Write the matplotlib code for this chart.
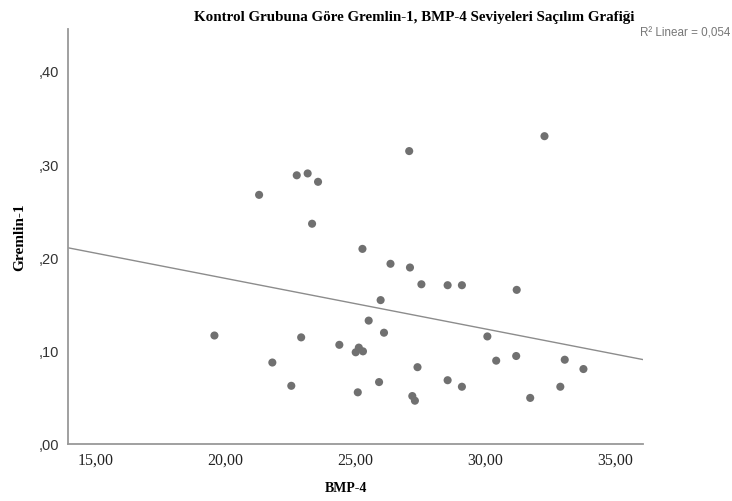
import numpy as np
import matplotlib
matplotlib.use("Agg")
import matplotlib.pyplot as plt
from matplotlib.ticker import FuncFormatter

# values
bmp4 = [19.58, 21.30, 21.81, 22.54, 22.75, 22.92, 23.17, 23.34, 23.57, 24.39,
        25.02, 25.14, 25.30, 25.10, 25.28, 25.52, 25.92, 25.98, 26.11, 26.36,
        27.08, 27.11, 27.20, 27.30, 27.40, 27.55, 28.56, 28.56, 29.11, 29.11,
        30.09, 30.43, 31.20, 31.22, 31.74, 32.29, 32.90, 33.07, 33.79]
gremlin1 = [0.117, 0.268, 0.088, 0.063, 0.289, 0.115, 0.291, 0.237, 0.282, 0.107,
            0.099, 0.104, 0.100, 0.056, 0.210, 0.133, 0.067, 0.155, 0.120, 0.194,
            0.315, 0.190, 0.052, 0.047, 0.083, 0.172, 0.171, 0.069, 0.171, 0.062,
            0.116, 0.090, 0.095, 0.166, 0.050, 0.331, 0.062, 0.091, 0.081]

x_ticks = [15, 20, 25, 30, 35]
y_ticks = [0.0, 0.1, 0.2, 0.3, 0.4]

title = "Kontrol Grubuna Göre Gremlin-1, BMP-4 Seviyeleri Saçılım Grafiği"
r2_text = "R² Linear = 0,054"

fig = plt.figure(figsize=(7.32, 5.01), dpi=100)
ax = fig.add_axes([0.0925, 0.1128, 0.7865, 0.8292])

x = np.array(bmp4)
y = np.array(gremlin1)
ax.scatter(x, y, s=34, color='#707070', edgecolors='none', zorder=3)

# fit line across the whole x range
xmin, xmax = 13.93, 36.1
slope, icpt = np.polyfit(x, y, 1)
xs = np.array([xmin, xmax])
ax.plot(xs, icpt + slope*xs, color='#8c8c8c', lw=1.0, zorder=2)

ax.set_xlim(xmin, xmax)
ax.set_ylim(0, 0.446)
ax.set_xticks(x_ticks)
ax.set_yticks(y_ticks)
ax.xaxis.set_major_formatter(FuncFormatter(lambda v, p: ('%.2f' % v).replace('.', ',')))
ax.yaxis.set_major_formatter(FuncFormatter(lambda v, p: ('%.2f' % v).replace('0.', ',', 1)))
ax.tick_params(length=0, pad=6)
for lab in ax.get_xticklabels():
    lab.set_fontfamily('Liberation Serif')
    lab.set_fontsize(11.5)
    lab.set_color('#222222')
for lab in ax.get_yticklabels():
    lab.set_fontfamily('Liberation Sans')
    lab.set_fontsize(10.5)
    lab.set_color('#333333')

for s in ['top', 'right']:
    ax.spines[s].set_visible(False)
for s in ['left', 'bottom']:
    ax.spines[s].set_color('#999999')
    ax.spines[s].set_linewidth(1.3)

fig.text(414/732, 1 - 18/501, title, ha='center', va='center',
         family='Liberation Serif', weight='bold', fontsize=10.8)
fig.text(730/732, 1 - 33/501, r2_text, ha='right', va='center',
         family='Liberation Sans', fontsize=8.4, color='#777777')
fig.text(346/732, 1 - 488/501, "BMP-4", ha='center', va='center',
         family='Liberation Serif', weight='bold', fontsize=10)
fig.text(20/732, 1 - 237/501, "Gremlin-1", ha='center', va='center', rotation=90,
         family='Liberation Serif', weight='bold', fontsize=11)

fig.savefig("out.png", dpi=100)
